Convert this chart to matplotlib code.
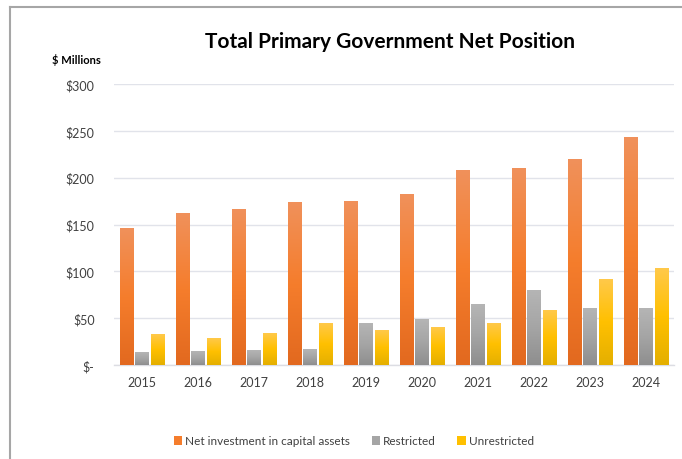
import numpy as np
import matplotlib
matplotlib.use("Agg")
import matplotlib.pyplot as plt
from matplotlib.colors import LinearSegmentedColormap
from matplotlib.patches import Patch
from matplotlib.lines import Line2D

plt.rcParams['font.family'] = ['Lato', 'DejaVu Sans']

# Net position by component, $ millions
years = ['2015', '2016', '2017', '2018', '2019', '2020', '2021', '2022', '2023', '2024']
net_investment = [146, 162, 166, 174, 175, 182, 208, 210, 219, 243]
restricted = [13, 14, 15, 17, 44, 49, 65, 80, 60, 60]
unrestricted = [33, 28, 34, 44, 37, 40, 44, 58, 91, 103]

series = [
    ('Net investment in capital assets', net_investment, ['#e2691f', '#f57d2c', '#f0915b']),
    ('Restricted', restricted, ['#8e8e8e', '#a5a5a5', '#b5b5b5']),
    ('Unrestricted', unrestricted, ['#e4af00', '#ffc000', '#ffc94a']),
]

fig = plt.figure(figsize=(6.82, 4.60), dpi=100)
ax = fig.add_axes([114 / 682, 1 - 366 / 460, 560 / 682, 281 / 460])

x = np.arange(len(years))
width = 0.233
offsets = [-0.277, 0, 0.277]
grad = np.linspace(0, 1, 256).reshape(-1, 1)

handles = []
for (name, vals, stops), off in zip(series, offsets):
    cmap = LinearSegmentedColormap.from_list(name, stops)
    for xi, v in zip(x, vals):
        x0 = xi + off - width / 2
        ax.imshow(grad, cmap=cmap, origin='lower', aspect='auto',
                  extent=(x0, x0 + width, 0, v), zorder=3, interpolation='bilinear')
    handles.append(Patch(facecolor=stops[1], edgecolor='none', label=name))

ax.set_xlim(-0.5, len(years) - 0.5)
ax.set_ylim(0, 300)
ax.set_yticks([0, 50, 100, 150, 200, 250, 300])
ax.set_yticklabels(['$-', '$50', '$100', '$150', '$200', '$250', '$300'])
ax.set_xticks(x)
ax.set_xticklabels(years)
ax.tick_params(length=0, labelsize=9, colors='#404040')
ax.tick_params(axis='y', pad=14)
ax.tick_params(axis='x', pad=8)
ax.grid(axis='y', color='#e1e3ea', linewidth=1, zorder=0)
for s in ['top', 'right', 'left']:
    ax.spines[s].set_visible(False)
ax.spines['bottom'].set_color('#dcdde3')
ax.spines['bottom'].set_linewidth(1)

fig.text(390 / 682, 1 - 42 / 460, 'Total Primary Government Net Position',
         ha='center', va='center', fontsize=15, fontweight='bold', color='#000000')
fig.text(52 / 682, 1 - 60 / 460, '$ Millions', ha='left', va='center',
         fontsize=8, fontweight='bold', color='#000000')

fig.legend(handles=handles, loc='center', bbox_to_anchor=(354 / 682, 1 - 442 / 460),
           ncol=3, frameon=False, fontsize=8.5, handlelength=0.7, handleheight=0.7,
           handletextpad=0.3, columnspacing=1.8, labelcolor='#404040')

# outer chart frame
fig.add_artist(Line2D([9.5 / 682, 1], [1 - 8 / 460, 1 - 8 / 460],
                      transform=fig.transFigure, color='#a6a6a6', linewidth=1.5))
fig.add_artist(Line2D([9.5 / 682, 9.5 / 682], [0, 1 - 8 / 460],
                      transform=fig.transFigure, color='#a6a6a6', linewidth=1.5))

fig.savefig('out.png', dpi=100)
